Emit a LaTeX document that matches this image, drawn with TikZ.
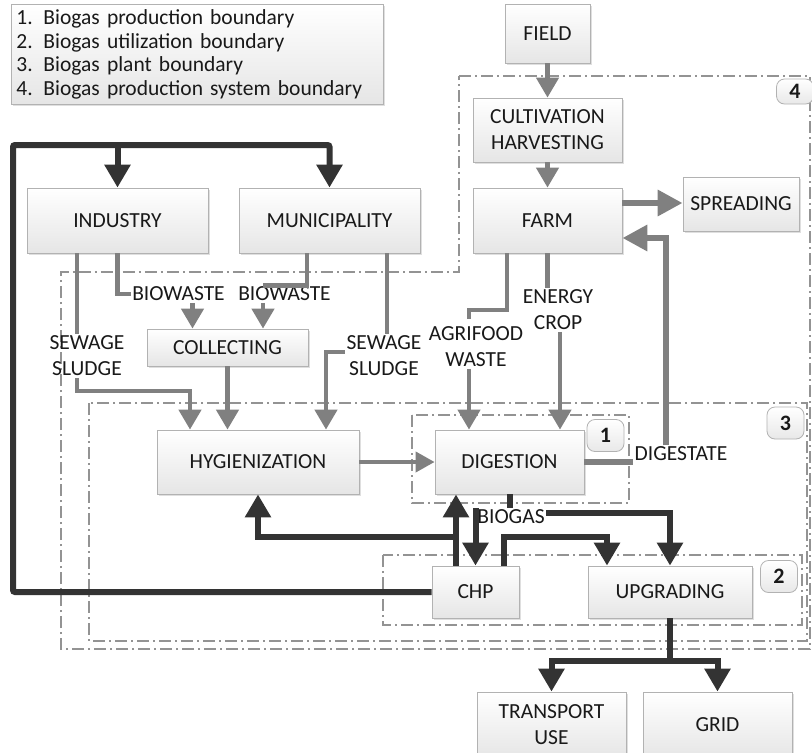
\documentclass[tikz,border=0pt]{standalone}
\usepackage{fontspec}
\setmainfont{Carlito}
\usetikzlibrary{arrows.meta,shadows}
\begin{document}
\begin{tikzpicture}[x=1pt,y=-1pt,
  box/.style={draw=gray!60, line width=0.8pt, top color=white, bottom color=gray!20,
    drop shadow={shadow xshift=1.5pt,shadow yshift=-1.5pt,opacity=0.25,fill=gray},
    font=\fontsize{21.5}{26}\selectfont, text=black!90, align=center, inner sep=0pt},
  lbl/.style={font=\fontsize{21.5}{26}\selectfont, text=black!90, align=center, inner sep=1.5pt},
  num/.style={draw=gray!60, line width=0.8pt, rounded corners=8pt, top color=white, bottom color=gray!18,
    font=\fontsize{22}{25}\selectfont\bfseries, text=black!90, minimum width=37pt, minimum height=32pt, inner sep=0pt},
  bnd/.style={draw=gray!85, line width=1.3pt, dash pattern=on 12pt off 4pt on 2pt off 4pt},
  gline/.style={draw=gray, line width=4.5pt},
  garr/.style={gline, -{Triangle[width=22pt,length=20pt]}},
  gthick/.style={draw=gray, line width=6.5pt, -{Triangle[width=25pt,length=25pt]}},
  dline/.style={draw=black!80, line width=6pt},
  darr/.style={dline, -{Triangle[width=25pt,length=23pt]}},
]
\useasboundingbox (0,0) rectangle (812,753);
\fill[white] (0,0) rectangle (812,753);
\clip (0,0) rectangle (812,753);

% boundaries
\draw[bnd] (459,76) -- (810,76) -- (810,649) -- (61,649) -- (61,272) -- (459,272) -- cycle;
\draw[bnd] (89,403) rectangle (807,641);
\draw[bnd] (412,415) rectangle (629,503);
\draw[bnd] (383,555) rectangle (802,625);

% boundary numbers
\node[num, minimum height=25pt] (n4) at (795,91.5) {4};
\node[num] (n3) at (785.5,423) {3};
\node[num] (n1) at (605.5,435.5) {1};
\node[num] (n2) at (779,576.5) {2};

% legend
\node[box, anchor=north west, align=left, minimum width=372pt, minimum height=100pt,
      text width=362pt, inner sep=4pt, font=\fontsize{21.5}{23.5}\selectfont] (legend) at (11,4)
  {1. Biogas production boundary\\2. Biogas utilization boundary\\3. Biogas plant boundary\\4. Biogas production system boundary};

% boxes
\node[box, minimum width=85pt, minimum height=59pt] (field) at (547.5,33.5) {FIELD};
\node[box, minimum width=149pt, minimum height=64pt] (cult) at (547.5,130) {CULTIVATION\\HARVESTING};
\node[box, minimum width=149pt, minimum height=65pt] (farm) at (547.5,220.5) {FARM};
\node[box, minimum width=116pt, minimum height=54pt] (spread) at (741,204) {SPREADING};
\node[box, minimum width=181pt, minimum height=65pt] (ind) at (117.5,220.5) {INDUSTRY};
\node[box, minimum width=181pt, minimum height=65pt] (mun) at (329.5,220.5) {MUNICIPALITY};
\node[box, minimum width=161pt, minimum height=37pt] (coll) at (227.5,347.5) {COLLECTING};
\node[box, minimum width=202pt, minimum height=64pt] (hyg) at (258,462) {HYGIENIZATION};
\node[box, minimum width=149pt, minimum height=64pt] (dig) at (509.5,462) {DIGESTION};
\node[box, minimum width=87pt, minimum height=52pt] (chp) at (475.5,592) {CHP};
\node[box, minimum width=164pt, minimum height=52pt] (upg) at (670,592) {UPGRADING};
\node[box, minimum width=149pt, minimum height=66pt] (trans) at (551.5,725) {TRANSPORT\\USE};
\node[box, minimum width=149pt, minimum height=66pt] (grid) at (717.5,725) {GRID};

% labels
\node[lbl] (bw1) at (178.5,294) {BIOWASTE};
\node[lbl] (bw2) at (284.5,294) {BIOWASTE};
\node[lbl] (sl1) at (87,356) {SEWAGE\\SLUDGE};
\node[lbl] (sl2) at (384,356) {SEWAGE\\SLUDGE};
\node[lbl] (af) at (476,347) {AGRIFOOD\\WASTE};
\node[lbl] (ec) at (558,310) {ENERGY\\CROP};
\node[lbl] (dgst) at (681,454) {DIGESTATE};
\node[lbl] (bg) at (511,517) {BIOGAS};

% helper coordinates
\coordinate (indL) at ([xshift=-40.5pt]ind.south);
\coordinate (munB) at ([xshift=-22.5pt]mun.south);
\coordinate (munR) at ([xshift=57.5pt]mun.south);
\coordinate (cA) at ([xshift=-35pt]coll.north);
\coordinate (cB) at ([xshift=35.5pt]coll.north);
\coordinate (farmA) at ([xshift=-40.5pt]farm.south);
\coordinate (dA) at ([xshift=-40.5pt]dig.north);
\coordinate (dB) at ([xshift=50.5pt]dig.north);
\coordinate (fs) at ([yshift=17.5pt]farm.east);
\coordinate (chA) at ([xshift=-19.5pt]chp.north);
\coordinate (chC) at ([xshift=28.5pt]chp.north);
\coordinate (uj) at ([yshift=-43pt]upg.south);

% gray flows
\draw[garr] (field.south) -- (cult.north);
\draw[garr] (cult.south) -- (farm.north);
\draw[gthick] (fs) -- (fs -| spread.west);
\draw[gline, line width=6pt] (dig.east) -- (dig.east -| dgst.west);
\draw[gthick] ([xshift=-15pt]dgst.north) |- ([yshift=-17.5pt]farm.east);

\draw[gline] (indL) -- (indL |- sl1.north);
\draw[garr] (indL |- sl1.south) -- (77,391) -| ([xshift=-68pt]hyg.north);
\draw[gline] (ind.south) |- (bw1.west);
\draw[gline] (munB) |- ([xshift=-22pt]bw2.north);
\draw[garr] (bw1.south -| cA) -- (cA);
\draw[garr] (bw2.south -| cB) -- (cB);
\draw[gline] (munR) -- (munR |- sl2.north);
\draw[garr] ([yshift=4pt]sl2.west) -| ([xshift=68pt]hyg.north);
\draw[garr] (coll.south) -- (coll.south |- hyg.north);
\draw[gline, line width=4pt, -{Triangle[width=20pt,length=19pt]}] (hyg.east) -- (dig.west);

\draw[gline] (farmA) -- (507,310) -- (469,310) -- (469 ,319);
\draw[garr] (dA |- af.south) -- (dA);
\draw[gline] (farm.south) -- (farm.south |- ec.north);
\draw[garr] (dB |- ec.south) -- (dB);

% dark flows
\draw[darr, rounded corners=2pt] (chp.west) -| (13,145) -| (mun.north);
\draw[darr] (ind.north |- 13,145) -- (ind.north);
\draw[darr] (chA) -- (chA |- dig.south);
\draw[darr] ([yshift=29pt]chA) -| (hyg.south);
\draw[dline] (dig.south) -- (dig.south |- bg.north);
\draw[darr] (chp.north |- bg.north) -- (chp.north);
\draw[darr] ([yshift=4pt]bg.east) -| (upg.north);
\draw[darr] (chC) -- ([yshift=29pt]chC) -| ([xshift=-63pt]upg.north);
\draw[dline] (upg.south) -- (uj);
\draw[darr] (uj) -| (trans.north);
\draw[darr] (uj) -| (grid.north);
\end{tikzpicture}
\end{document}
